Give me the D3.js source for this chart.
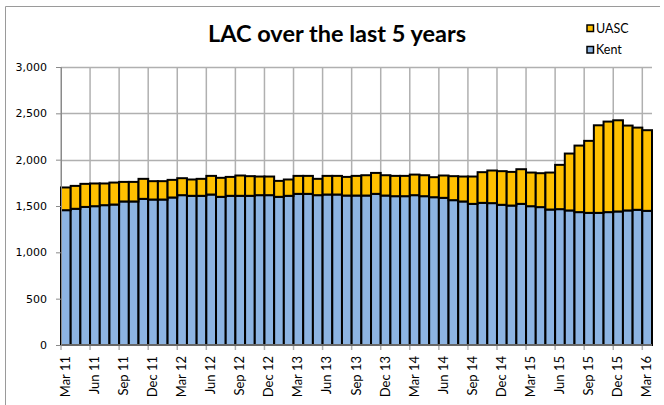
<!DOCTYPE html>
<html>
<head>
<meta charset="utf-8">
<script src="https://cdn.jsdelivr.net/npm/d3@7"></script>
<style>
  body { margin: 0; background: #fff; }
  svg { display: block; }
</style>
</head>
<body>
<svg></svg>
<script>
// Monthly LAC counts, Mar 2011 - Mar 2016
const kent = [
  1455, 1470, 1490, 1498, 1509, 1516, 1549, 1549, 1577, 1570, 1570, 1592,
  1617, 1610, 1610, 1624, 1599, 1610, 1610, 1610, 1617, 1617, 1599, 1610,
  1631, 1631, 1617, 1624, 1624, 1613, 1613, 1613, 1631, 1613, 1606, 1606,
  1617, 1606, 1595, 1588, 1563, 1549, 1523, 1534, 1531, 1513, 1505, 1523,
  1498, 1488, 1462, 1466, 1452, 1434, 1426, 1426, 1434, 1441, 1452, 1459,
  1448
];
const uasc = [
  245, 247, 249, 245, 234, 237, 211, 211, 216, 198, 198, 190,
  183, 176, 183, 201, 205, 204, 219, 212, 201, 201, 172, 176,
  194, 194, 176, 201, 201, 201, 212, 219, 226, 219, 219, 219,
  222, 226, 216, 241, 259, 269, 295, 331, 352, 363, 363, 374,
  363, 366, 399, 478, 614, 718, 777, 945, 977, 984, 916, 887,
  870
];
const tickLabels = [
  "Mar 11", "Jun 11", "Sep 11", "Dec 11", "Mar 12", "Jun 12", "Sep 12",
  "Dec 12", "Mar 13", "Jun 13", "Sep 13", "Dec 13", "Mar 14", "Jun 14",
  "Sep 14", "Dec 14", "Mar 15", "Jun 15", "Sep 15", "Dec 15", "Mar 16"
];
const yTicks = [0, 500, 1000, 1500, 2000, 2500, 3000];
const seriesNames = ["Kent", "UASC"];
const colors = { Kent: "#8DB4E2", UASC: "#FFC000" };

const width = 664, height = 405;
const margin = { left: 61, right: 12, top: 67, bottom: 60 };

const svg = d3.select("svg")
  .attr("width", width)
  .attr("height", height)
  .style("font-family", "Lato, sans-serif");

// one category per month
const months = d3.timeMonth.range(new Date(2011, 2, 1), new Date(2016, 3, 1));
const fmt = d3.timeFormat("%b %y");
const cats = months.map(fmt);

const rows = cats.map((c, i) => ({ cat: c, Kent: kent[i], UASC: uasc[i] }));
const stacked = d3.stack().keys(seriesNames)(rows);

const x = d3.scaleBand()
  .domain(cats)
  .range([margin.left, width - margin.right])
  .padding(0);

const y = d3.scaleLinear()
  .domain([0, 3000])
  .range([height - margin.bottom, margin.top]);

// frame (top and left edges visible)
svg.append("path")
  .attr("d", `M5.5,${height}V6.5H660`)
  .attr("fill", "none")
  .attr("stroke", "#9a9a9a")
  .attr("stroke-width", 1);

// horizontal gridlines
svg.append("g")
  .selectAll("line")
  .data(yTicks.slice(1))
  .enter()
  .append("line")
  .attr("x1", margin.left)
  .attr("x2", width - margin.right)
  .attr("y1", d => Math.round(y(d)) + 0.5)
  .attr("y2", d => Math.round(y(d)) + 0.5)
  .attr("stroke", "#b0b0b0")
  .attr("stroke-width", 1.5);

// vertical gridlines at each labelled quarter
svg.append("g")
  .selectAll("line")
  .data(tickLabels)
  .enter()
  .append("line")
  .attr("x1", d => x(d))
  .attr("x2", d => x(d))
  .attr("y1", y(3000))
  .attr("y2", y(0) + 5)
  .attr("stroke", "#b0b0b0")
  .attr("stroke-width", 1.5);

// bars
svg.append("g")
  .selectAll("g")
  .data(stacked)
  .enter()
  .append("g")
  .attr("fill", d => colors[d.key])
  .selectAll("rect")
  .data(d => d)
  .enter()
  .append("rect")
  .attr("x", d => x(d.data.cat))
  .attr("width", x.bandwidth())
  .attr("y", d => y(d[1]))
  .attr("height", d => y(d[0]) - y(d[1]))
  .attr("stroke", "#000")
  .attr("stroke-width", 2);

// y axis
const yAxis = svg.append("g")
  .attr("transform", `translate(${margin.left},0)`)
  .call(d3.axisLeft(y).tickValues(yTicks).tickSize(5).tickPadding(9)
    .tickFormat(d3.format(",")));
yAxis.select(".domain").attr("stroke", "#8a8a8a");
yAxis.selectAll(".tick line").attr("stroke", "#8a8a8a");
yAxis.selectAll("text")
  .style("font-family", "'DejaVu Sans', Verdana, sans-serif")
  .style("font-size", "11px")
  .attr("fill", "#000");

// x axis line
svg.append("line")
  .attr("x1", margin.left)
  .attr("x2", width - margin.right)
  .attr("y1", y(0))
  .attr("y2", y(0))
  .attr("stroke", "#8a8a8a")
  .attr("stroke-width", 1.5);

// x labels, rotated
svg.append("g")
  .selectAll("text")
  .data(tickLabels)
  .enter()
  .append("text")
  .attr("transform", d => `translate(${x(d) + x.bandwidth() / 2 + 4},${y(0) + 11}) rotate(-90)`)
  .attr("text-anchor", "end")
  .style("font-size", "13px")
  .text(d => d);

// title
svg.append("text")
  .attr("x", 337)
  .attr("y", 42)
  .attr("text-anchor", "middle")
  .style("font-size", "23.5px")
  .style("font-weight", "bold")
  .text("LAC over the last 5 years");

// legend (UASC on top)
const legend = svg.append("g")
  .selectAll("g")
  .data(["UASC", "Kent"])
  .enter()
  .append("g")
  .attr("transform", (d, i) => `translate(587,${25 + i * 21.5})`);
legend.append("rect")
  .attr("width", 6.5)
  .attr("height", 6.5)
  .attr("fill", d => colors[d])
  .attr("stroke", "#000")
  .attr("stroke-width", 1.5);
legend.append("text")
  .attr("x", 9)
  .attr("y", 7.5)
  .style("font-size", "12.5px")
  .text(d => d);
</script>
</body>
</html>
